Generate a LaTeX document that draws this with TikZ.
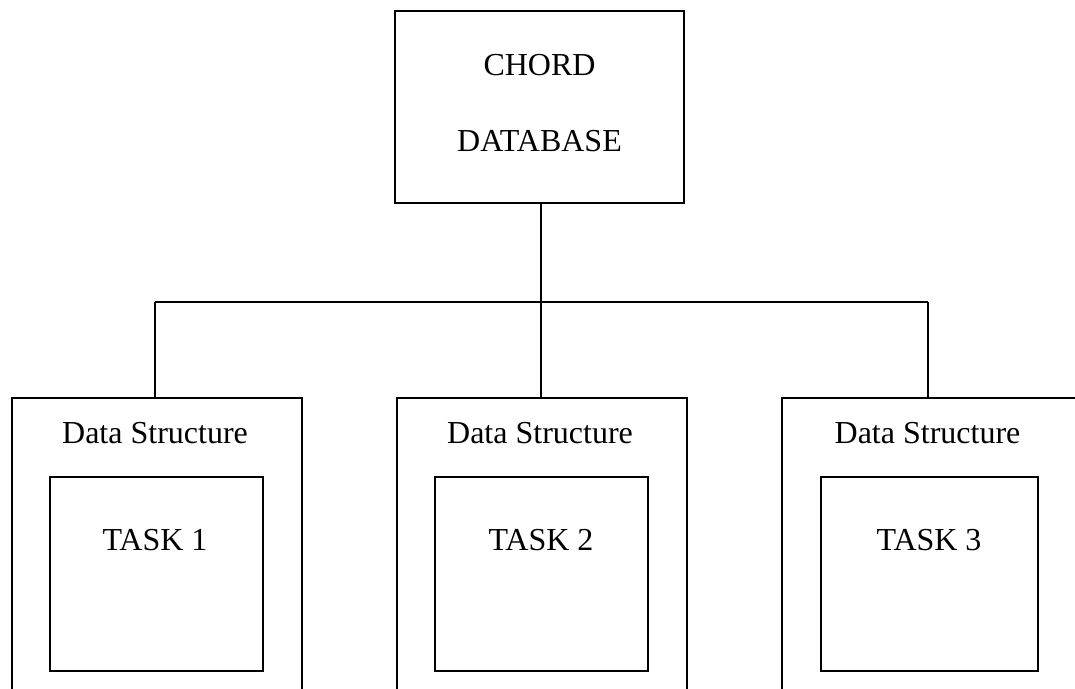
\documentclass[tikz,border=0pt]{standalone}
\usepackage{fontspec}
\setmainfont{Liberation Serif}
\begin{document}
\begin{tikzpicture}[x=1pt,y=-1pt,
  line width=2.2pt,
  box/.style={draw, rectangle, inner sep=0pt},
  txt/.style={anchor=base, inner sep=0pt, font=\fontsize{32}{38}\selectfont},
  wire/.style={draw, line cap=rect}]
\useasboundingbox (0,0) rectangle (1075,688);

% database box at the top
\node[box, minimum width=289pt, minimum height=192pt] (db) at (539.5,107) {};
\node[txt] (dbl1) at (539.5,75) {CHORD};
\node[txt] (dbl2) at (539.5,151) {DATABASE};

% outer data-structure boxes (their lower parts, and the right side of
% the last one, run past the page)
\node[box, minimum width=290pt, minimum height=322pt] (ds1) at (157,559) {};
\node[box, minimum width=290pt, minimum height=322pt] (ds2) at (542,559) {};
\node[box, minimum width=310pt, minimum height=322pt] (ds3) at (937,559) {};
\node[txt] (dsl1) at (155,443) {Data Structure};
\node[txt] (dsl2) at (540,443) {Data Structure};
\node[txt] (dsl3) at (927.5,443) {Data Structure};

% task boxes
\node[box, minimum width=213pt, minimum height=194pt] (t1) at (156.5,574) {};
\node[box, minimum width=213pt, minimum height=194pt] (t2) at (541.5,574) {};
\node[box, minimum width=217pt, minimum height=194pt] (t3) at (929.5,574) {};
\node[txt] (tl1) at (155,550) {TASK 1};
\node[txt] (tl2) at (541,550) {TASK 2};
\node[txt] (tl3) at (929,550) {TASK 3};

% tree connectors
\coordinate (j1) at (155,302);
\coordinate (j2) at (541,302);
\coordinate (j3) at (928,302);
\draw (db.south -| j2) -- (j2);
\draw (j1) -- (j3);
\draw (j1) -- (j1 |- ds1.north);
\draw (j2) -- (j2 |- ds2.north);
\draw (j3) -- (j3 |- ds3.north);
\end{tikzpicture}
\end{document}
